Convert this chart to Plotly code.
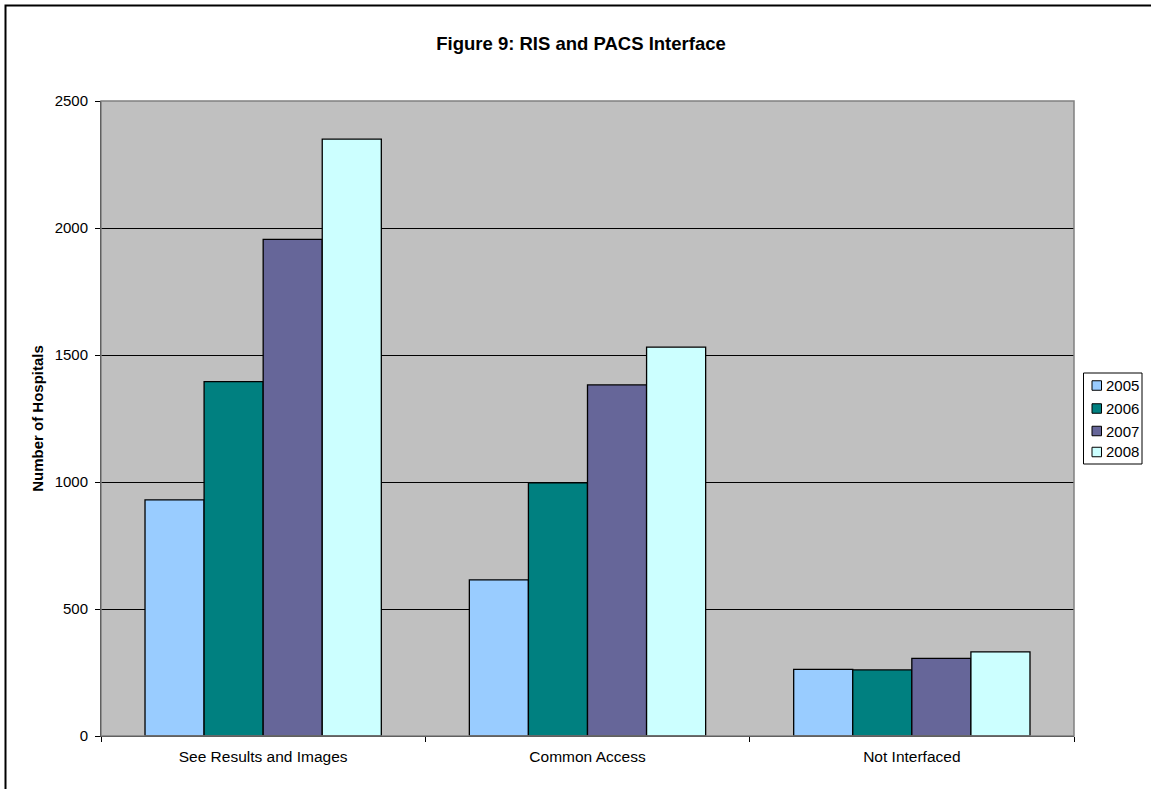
import plotly.graph_objects as go

categories = ["See Results and Images", "Common Access", "Not Interfaced"]
years = ["2005", "2006", "2007", "2008"]
v2005 = [930, 615, 262]
v2006 = [1395, 997, 260]
v2007 = [1955, 1382, 306]
v2008 = [2350, 1531, 331]
series = [v2005, v2006, v2007, v2008]
colors = ["#99CCFF", "#008080", "#666699", "#CCFFFF"]

W, H = 1151, 789
L, R, T, B = 101, 77, 101, 53
pw, ph = W - L - R, H - T - B


def px(X):
    return (X - L) / pw


def py(Y):
    return (H - B - Y) / ph


fig = go.Figure()
for name, vals, col in zip(years, series, colors):
    fig.add_trace(go.Bar(
        x=categories, y=vals, name=name, showlegend=False,
        marker=dict(color=col, line=dict(color="black", width=1.3)),
    ))

shapes = [
    dict(type="rect", xref="paper", yref="paper", x0=0, x1=1, y0=0, y1=1,
         line=dict(color="#808080", width=1.5), layer="above", fillcolor="rgba(0,0,0,0)"),
    dict(type="rect", xref="paper", yref="paper",
         x0=px(5.5), x1=px(1160), y0=py(800), y1=py(5.5),
         line=dict(color="black", width=2), fillcolor="rgba(0,0,0,0)"),
    # legend box
    dict(type="rect", xref="paper", yref="paper",
         x0=px(1083.5), x1=px(1142), y0=py(464), y1=py(373),
         line=dict(color="black", width=1), fillcolor="white"),
]
annotations = []
row_y = [385.5, 408.5, 431, 452]
for name, col, yy in zip(years, colors, row_y):
    shapes.append(dict(type="rect", xref="paper", yref="paper",
                       x0=px(1092), x1=px(1101.5), y0=py(yy + 4.75), y1=py(yy - 4.75),
                       line=dict(color="black", width=1), fillcolor=col))
    annotations.append(dict(text=name, xref="paper", yref="paper",
                            x=px(1103.5), y=py(yy), xanchor="left", yanchor="middle",
                            showarrow=False, font=dict(size=15, color="black")))

fig.update_layout(
    width=W, height=H,
    margin=dict(l=L, r=R, t=T, b=B, pad=0, autoexpand=False),
    paper_bgcolor="white",
    plot_bgcolor="#C0C0C0",
    barmode="group",
    bargap=0.2714,
    bargroupgap=0,
    showlegend=False,
    font=dict(family="Arial, Liberation Sans, sans-serif", size=15, color="black"),
    title=dict(
        text="<b>Figure 9: RIS and PACS Interface</b>",
        x=px(581), xref="paper", xanchor="center",
        y=1 - 44 / H, yref="container", yanchor="middle",
        font=dict(size=18.5, color="black"),
    ),
    xaxis=dict(
        showline=True, linecolor="black", linewidth=1,
        ticks="outside", tickson="boundaries", ticklen=5, tickcolor="black",
        showgrid=False, ticklabelstandoff=6,
        tickfont=dict(size=15.5),
    ),
    yaxis=dict(
        range=[0, 2500], dtick=500, tick0=0,
        showline=True, linecolor="black", linewidth=1,
        ticks="outside", ticklen=5, tickcolor="black",
        showgrid=True, gridcolor="black", gridwidth=1,
        zeroline=False, ticklabelstandoff=4,
        tickfont=dict(size=15),
        title=dict(text="<b>Number of Hospitals</b>", font=dict(size=15), standoff=7),
    ),
    shapes=shapes,
    annotations=annotations,
)

fig.write_html("out.html")
